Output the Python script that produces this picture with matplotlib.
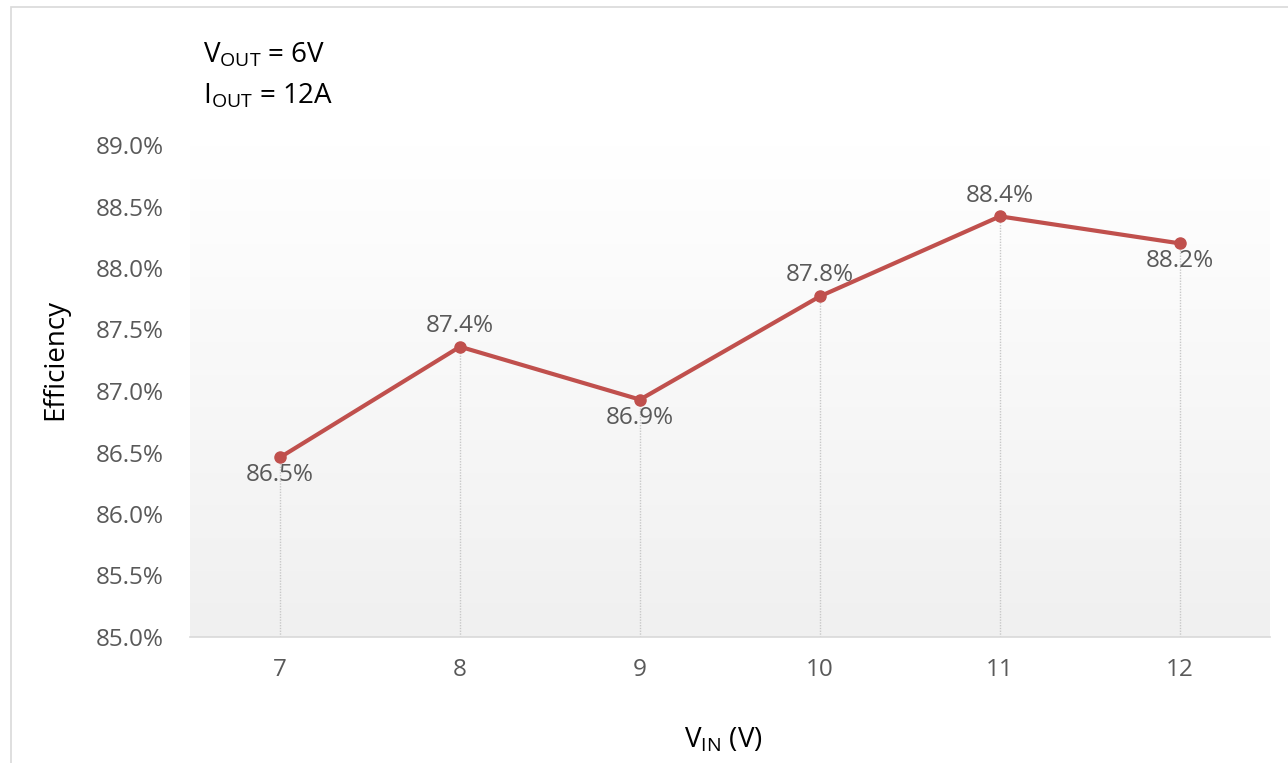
import numpy as np
import matplotlib.pyplot as plt
from matplotlib.patches import Rectangle
from matplotlib.colors import LinearSegmentedColormap
from matplotlib.ticker import FuncFormatter

plt.rcParams['font.family'] = ['Open Sans', 'DejaVu Sans']
plt.rcParams['mathtext.fontset'] = 'custom'
plt.rcParams['mathtext.rm'] = 'Open Sans'

vin = [7, 8, 9, 10, 11, 12]
efficiency = [86.46, 87.36, 86.93, 87.77, 88.42, 88.20]
label_pos = ['below', 'above', 'below', 'above', 'above', 'below']

fig = plt.figure(figsize=(12.88, 7.63), dpi=100)
ax = fig.add_axes([190 / 1288, 1 - 637 / 763, 1080 / 1288, 492 / 763])

# outer chart border
fig.patches.append(Rectangle((11 / 1288, -0.01), 1.0, 1 - 7 / 763 + 0.01,
                             transform=fig.transFigure, fill=False,
                             edgecolor='#d9d9d9', linewidth=1.2))

# plot area gradient, white on top to light grey at the bottom
grad = np.linspace(0, 1, 256).reshape(-1, 1)
cmap = LinearSegmentedColormap.from_list('g', ['#f0f0f0', '#ffffff'])
ax.imshow(grad, extent=(6.5, 12.5, 85, 89), aspect='auto', cmap=cmap,
          origin='lower', zorder=0)

# drop lines
ax.vlines(vin, 85, efficiency, colors='#c8c8c8', linestyles=(0, (1, 1)),
          linewidth=1.0, zorder=1)

ax.plot(vin, efficiency, color='#c0504d', linewidth=3, marker='o',
        markersize=8, zorder=3)

for x, y, p in zip(vin, efficiency, label_pos):
    off = 15 if p == 'above' else -13
    ax.annotate(f'{y:.1f}%', (x, y), xytext=(0, off), textcoords='offset points',
                ha='center', va='center', fontsize=17.5, color='#595959', zorder=4)

ax.set_xlim(6.5, 12.5)
ax.set_ylim(85, 89)
ax.set_xticks(vin)
ax.set_yticks(np.arange(85, 89.01, 0.5))
ax.yaxis.set_major_formatter(FuncFormatter(lambda v, _: f'{v:.1f}%'))
ax.tick_params(axis='both', length=0, labelsize=17.5, labelcolor='#595959')
ax.tick_params(axis='x', pad=15)
ax.tick_params(axis='y', pad=19)

for s in ['top', 'right', 'left']:
    ax.spines[s].set_visible(False)
ax.spines['bottom'].set_color('#d9d9d9')
ax.spines['bottom'].set_linewidth(1.2)

fig.text(55 / 1288, 1 - 360 / 763, 'Efficiency', rotation=90, ha='center',
         va='center', fontsize=20, color='black')
fig.text(723 / 1288, 1 - 740 / 763, r'V$_{\mathregular{IN}}$ (V)', ha='center',
         va='center', fontsize=20, color='black')
fig.text(203 / 1288, 1 - 55 / 763, r'V$_{\mathregular{OUT}}$ = 6V', ha='left',
         va='center', fontsize=20, color='black')
fig.text(203 / 1288, 1 - 96 / 763, r'I$_{\mathregular{OUT}}$ = 12A', ha='left',
         va='center', fontsize=20, color='black')

fig.savefig('out.png', dpi=100)
